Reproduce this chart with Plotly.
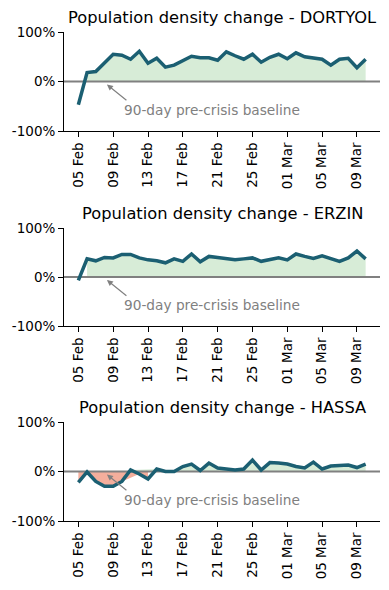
import pandas as pd
import plotly.graph_objects as go
from plotly.subplots import make_subplots

start_date = "2023-02-05"
end_date = "2023-03-10"
regions = ["DORTYOL", "ERZIN", "HASSA"]
dortyol = [-47, 18, 20, 37, 55, 53, 45, 61, 37, 47, 29, 33, 43, 51, 48, 48, 43,
           60, 52, 45, 55, 39, 49, 55, 46, 58, 50, 48, 45, 33, 45, 47, 28, 45]
erzin = [-7, 37, 33, 40, 39, 46, 46, 39, 35, 33, 29, 37, 32, 47, 31, 42, 40,
         37, 35, 37, 39, 32, 35, 39, 35, 47, 42, 38, 43, 37, 32, 39, 53, 37]
hassa = [-22, -1, -20, -30, -30, -20, 3, -5, -15, 5, 0, 0, 10, 15, 2, 17, 7,
         5, 3, 5, 23, 3, 18, 17, 15, 10, 7, 19, 5, 11, 12, 13, 8, 15]
series = [dortyol, erzin, hassa]
y_ticks = [-100, 0, 100]
y_tick_text = ["-100%", "0%", "100%"]
annotation_text = "90-day pre-crisis baseline"

dates = pd.date_range(start_date, end_date, freq="D")
tick_dates = dates[::4]

LINE = "#1b5f72"
GREEN = "#d7ecd7"
RED = "#f4ae9c"
GRAY = "#808080"
FONT = "DejaVu Sans"

W, H = 389, 590
x_dom = [64 / W, 380 / W]
plot_px = [(32, 131), (228, 326), (422, 521)]  # top, bottom

fig = make_subplots(rows=3, cols=1)

span = (dates[-1] - dates[0])
pad = span * 0.05
x_range = [dates[0] - pad, dates[-1] + pad]

for i, (name, vals) in enumerate(zip(regions, series)):
    r = i + 1
    pos = [v if v >= 0 else None for v in vals]
    neg = [v if v < 0 else None for v in vals]
    fig.add_trace(go.Scatter(x=dates, y=pos, mode="lines", line=dict(width=0),
                             fill="tozeroy", fillcolor=GREEN, connectgaps=False,
                             hoverinfo="skip", showlegend=False), row=r, col=1)
    fig.add_trace(go.Scatter(x=dates, y=neg, mode="lines", line=dict(width=0),
                             fill="tozeroy", fillcolor=RED, connectgaps=False,
                             hoverinfo="skip", showlegend=False), row=r, col=1)
    fig.add_trace(go.Scatter(x=x_range, y=[0, 0], mode="lines",
                             line=dict(color=GRAY, width=2),
                             hoverinfo="skip", showlegend=False), row=r, col=1)
    fig.add_trace(go.Scatter(x=dates, y=vals, mode="lines",
                             line=dict(color=LINE, width=3.5),
                             showlegend=False), row=r, col=1)

    top, bot = plot_px[i]
    fig.update_xaxes(domain=x_dom, range=x_range, type="date",
                     tickvals=tick_dates, tickformat="%d %b", tickangle=-90,
                     ticks="outside", ticklen=5, tickwidth=1, tickcolor="black",
                     showline=True, linecolor="black", linewidth=1,
                     showgrid=False, zeroline=False, automargin=False,
                     tickfont=dict(family=FONT, size=13.5, color="black"),
                     row=r, col=1)
    fig.update_yaxes(domain=[1 - bot / H, 1 - top / H], range=[-100, 100],
                     tickvals=y_ticks, ticktext=y_tick_text,
                     ticks="outside", ticklen=5, tickwidth=1, tickcolor="black",
                     showline=True, linecolor="black", linewidth=1,
                     showgrid=False, zeroline=False, automargin=False,
                     tickfont=dict(family=FONT, size=13.5, color="black"),
                     row=r, col=1)

    xref = "x" if r == 1 else f"x{r}"
    yref = "y" if r == 1 else f"y{r}"
    # title
    fig.add_annotation(text=f"Population density change - {name}",
                       xref="paper", yref="paper",
                       x=(x_dom[0] + x_dom[1]) / 2, y=1 - top / H + 3 / H,
                       xanchor="center", yanchor="bottom", showarrow=False,
                       font=dict(family=FONT, size=16.3, color="black"))
    # arrow
    fig.add_annotation(text="", xref=xref, yref=yref,
                       x=dates[0] + pd.Timedelta(hours=3.28 * 24), y=-6,
                       ax=21, ay=17, showarrow=True, arrowhead=2,
                       arrowsize=1, arrowwidth=1.2, arrowcolor=GRAY)
    fig.add_annotation(text=annotation_text, xref=xref, yref=yref,
                       x=dates[0] + pd.Timedelta(hours=5.03 * 24), y=-57,
                       xanchor="left", yanchor="middle", showarrow=False,
                       font=dict(family=FONT, size=13.7, color=GRAY))

fig.update_layout(width=W, height=H, margin=dict(l=0, r=0, t=0, b=0),
                  plot_bgcolor="white", paper_bgcolor="white",
                  font=dict(family=FONT))

fig.write_html("out.html", config={"displayModeBar": False},
               post_script="document.body.style.margin='0';document.body.style.overflow='hidden';")
